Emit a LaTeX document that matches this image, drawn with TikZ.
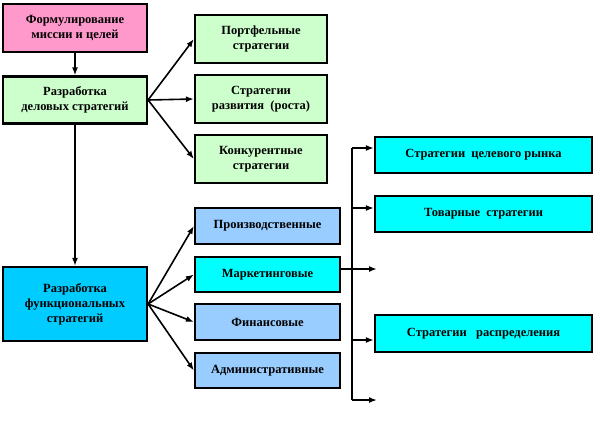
\documentclass[tikz,border=0pt]{standalone}
\usepackage{fontspec}
\setmainfont{Liberation Serif}
\usetikzlibrary{arrows.meta}

\definecolor{rozov}{RGB}{255,153,204}
\definecolor{salat}{RGB}{204,255,204}
\definecolor{golub}{RGB}{0,204,255}
\definecolor{sinev}{RGB}{153,204,255}
\definecolor{biruz}{RGB}{0,255,255}

\begin{document}
\begin{tikzpicture}[x=1pt,y=-1pt,
  blok/.style={draw,line width=2.2pt,align=center,inner sep=1pt,
    font=\bfseries\fontsize{12.5}{15}\selectfont},
  strl/.style={-{Latex[length=8pt,width=6pt]},line width=1.6pt}]
\useasboundingbox (0,0) rectangle (596,424);
% delovye strategii
\node[blok,fill=rozov,minimum width=144pt,minimum height=48pt] (missiya) at (75,28) {Формулирование\\миссии и целей};
\node[blok,fill=salat,minimum width=144pt,minimum height=47pt] (delov) at (75,100) {Разработка\\деловых стратегий};
\node[blok,fill=salat,minimum width=132pt,minimum height=48pt] (portf) at (261,39) {Портфельные\\стратегии};
\node[blok,fill=salat,minimum width=132pt,minimum height=48pt] (razv) at (261,99) {Стратегии\\развития\ \ (роста)};
\node[blok,fill=salat,minimum width=132pt,minimum height=48pt] (konk) at (261,159) {Конкурентные\\стратегии};
% funkcionalnye strategii
\node[blok,fill=golub,minimum width=144pt,minimum height=74pt] (funk) at (75,304) {Разработка\\функциональных\\стратегий};
\node[blok,fill=sinev,minimum width=145pt,minimum height=36pt] (proizv) at (267.5,226) {Производственные};
\node[blok,fill=biruz,minimum width=145pt,minimum height=35pt] (market) at (267.5,274.5) {Маркетинговые};
\node[blok,fill=sinev,minimum width=145pt,minimum height=36pt] (finans) at (267.5,322) {Финансовые};
\node[blok,fill=sinev,minimum width=145pt,minimum height=35pt] (admin) at (267.5,370.5) {Административные};
% marketingovye
\node[blok,fill=biruz,minimum width=217pt,minimum height=36pt] (celev) at (483.5,155) {Стратегии\ \ целевого рынка};
\node[blok,fill=biruz,minimum width=217pt,minimum height=36pt] (tovar) at (483.5,214) {Товарные\ \ стратегии};
\node[blok,fill=biruz,minimum width=217pt,minimum height=37pt] (raspr) at (483.5,333.5) {Стратегии\ \ \ распределения};
\coordinate (skverh) at (352,148);
\coordinate (skniz) at (352,400);
\coordinate (markkon) at (377,269);
\coordinate (nizkon) at (377,400);

\draw[strl] (missiya) -- (delov);
\draw[strl] (delov) -- (funk);
\foreach \k in {portf,razv,konk}
  \draw[strl] (delov.east) -- (\k.west);
\foreach \k in {proizv,market,finans,admin}
  \draw[strl] (funk.east) -- (\k.west);
\draw[strl] (market.east |- markkon) -- (markkon);
\draw[line width=1.6pt] (skverh) -- (skniz);
\draw[strl] (skverh) -- (celev.west |- skverh);
\draw[strl] (skverh |- 0,208) -- (tovar.west |- 0,208);
\draw[strl] (skverh |- 0,340) -- (raspr.west |- 0,340);
\draw[strl] (skniz) -- (nizkon);
\end{tikzpicture}
\end{document}
